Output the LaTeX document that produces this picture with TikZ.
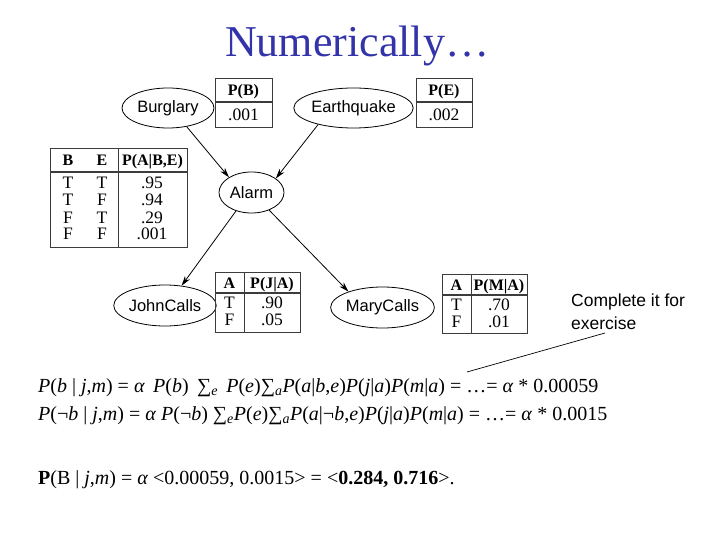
\documentclass[tikz,border=0pt]{standalone}
\usepackage{fontspec}
\setmainfont{Liberation Serif}
\setsansfont{Liberation Sans}
\usepackage{xcolor}
\usetikzlibrary{shapes.geometric, arrows.meta}
\definecolor{titleblue}{RGB}{51,51,170}
\definecolor{rulegray}{RGB}{60,60,60}
\tikzset{var/.style={draw, ellipse, inner sep=0pt, line width=0.8pt, font=\sffamily\fontsize{16.5}{18}\selectfont},
cpt/.style={draw=rulegray, line width=0.9pt},
headrule/.style={draw=rulegray, line width=1.8pt},
cell/.style={inner sep=0pt, anchor=base, font=\fontsize{17.5}{18}\selectfont},
head/.style={inner sep=0pt, anchor=base, font=\bfseries\fontsize{16}{18}\selectfont},
eqn/.style={inner sep=0pt, anchor=base west, font=\fontsize{20}{22}\selectfont},
line/.style={-{Stealth[length=10pt,width=6pt]}, line width=0.8pt}
}
\newcommand{\iv}[1]{\textit{#1}}
\begin{document}
\begin{tikzpicture}[x=1pt,y=-1pt]
\useasboundingbox (0,0) rectangle (720,540);
\node[anchor=base, inner sep=0pt, text=titleblue, font=\fontsize{44}{48}\selectfont] (title) at (357,57) {Numerically…};
% the network
\node[var, minimum width=92pt, minimum height=40pt] (burglary) at (168,108) {Burglary};
\node[var, minimum width=93pt, minimum height=40pt] (earthquake) at (353.5,108) {Earthquake};
\node[var, minimum width=65pt, minimum height=41pt] (alarm) at (251.5,192.5) {Alarm};
\node[var, minimum width=96pt, minimum height=41pt] (john) at (165,305.5) {JohnCalls};
\node[var, minimum width=95pt, minimum height=41pt] (mary) at (382.5,307.5) {MaryCalls};
\draw[line] (burglary.-45) -- (alarm.146);
\draw[line] (earthquake.-155) -- (alarm.30);
\draw[line] (alarm.-130) -- (john.50);
\draw[line] (alarm.-45) -- (mary.155);
% table P(B)
\draw[cpt] (215,78) rectangle (272,127);
\draw[headrule] (215,102) -- (272,102);
\node[head] (pb-h) at (243.5,96) {P(B)};
\node[cell] (pb-v) at (243.5,121) {.001};
% table P(E)
\draw[cpt] (416,78) rectangle (472,127);
\draw[headrule] (416,102) -- (472,102);
\node[head] (pe-h) at (444,96) {P(E)};
\node[cell] (pe-v) at (444,121) {.002};
% table P(A|B,E)
\draw[cpt] (50,148) rectangle (187,247);
\draw[headrule] (50,172) -- (187,172);
\draw[cpt] (118,148) -- (118,247);
\node[head] (pa-b) at (68,166) {B};
\node[head] (pa-e) at (102,166) {E};
\node[head] (pa-h) at (152.5,166) {P(A|B,E)};
\node[cell] (pa-b1) at (68,189) {T};
\node[cell] (pa-e1) at (102,189) {T};
\node[cell] (pa-v1) at (152,189) {.95};
\node[cell] (pa-b2) at (68,206) {T};
\node[cell] (pa-e2) at (102,206) {F};
\node[cell] (pa-v2) at (152,206) {.94};
\node[cell] (pa-b3) at (68,223) {F};
\node[cell] (pa-e3) at (102,223) {T};
\node[cell] (pa-v3) at (152,223) {.29};
\node[cell] (pa-b4) at (68,240) {F};
\node[cell] (pa-e4) at (102,240) {F};
\node[cell] (pa-v4) at (152,240) {.001};
% table P(J|A)
\draw[cpt] (215,272) rectangle (300,332);
\draw[headrule] (215,293) -- (300,293);
\draw[cpt] (244,272) -- (244,332);
\node[head] (pj-a) at (229.5,288) {A};
\node[head] (pj-h) at (272,288) {P(J|A)};
\node[cell] (pj-a1) at (229.5,308) {T};
\node[cell] (pj-v1) at (272,308) {.90};
\node[cell] (pj-a2) at (229.5,325) {F};
\node[cell] (pj-v2) at (272,325) {.05};
% table P(M|A)
\draw[cpt] (442,274) rectangle (527,333);
\draw[headrule] (442,295) -- (527,295);
\draw[cpt] (471,274) -- (471,333);
\node[head] (pm-a) at (456.5,290) {A};
\node[head] (pm-h) at (499,290) {P(M|A)};
\node[cell] (pm-a1) at (456.5,310) {T};
\node[cell] (pm-v1) at (499,310) {.70};
\node[cell] (pm-a2) at (456.5,327) {F};
\node[cell] (pm-v2) at (499,327) {.01};
% note and its pointer
\node[anchor=north west, inner sep=0pt, align=left, font=\sffamily\fontsize{17.5}{23}\selectfont] (note) at (571,294) {Complete it for\\exercise};
\coordinate (noteend) at (605,333);
\coordinate (tip) at (467,372);
\draw[line width=0.7pt] (noteend) -- (tip);
% the sums
\node[eqn] (eq1) at (38,392) {\iv{P}(\iv{b} | \iv{j},\iv{m}) = \iv{α}\, \iv{P}(\iv{b})\, ∑\textsubscript{\iv{e}}\, \iv{P}(\iv{e})∑\textsubscript{\iv{a}}\iv{P}(\iv{a}|\iv{b},\iv{e})\iv{P}(\iv{j}|\iv{a})\iv{P}(\iv{m}|\iv{a}) = …= \iv{α} * 0.00059};
\node[eqn] (eq2) at (38,420) {\iv{P}(¬\iv{b} | \iv{j},\iv{m}) = \iv{α} \iv{P}(¬\iv{b}) ∑\textsubscript{\iv{e}}\iv{P}(\iv{e})∑\textsubscript{\iv{a}}\iv{P}(\iv{a}|¬\iv{b},\iv{e})\iv{P}(\iv{j}|\iv{a})\iv{P}(\iv{m}|\iv{a}) = …= \iv{α} * 0.0015};
\node[eqn] (eq3) at (38,484) {\textbf{P}(B | \iv{j},\iv{m}) = \iv{α} <0.00059, 0.0015> = <\textbf{0.284, 0.716}>.};
\end{tikzpicture}
\end{document}
